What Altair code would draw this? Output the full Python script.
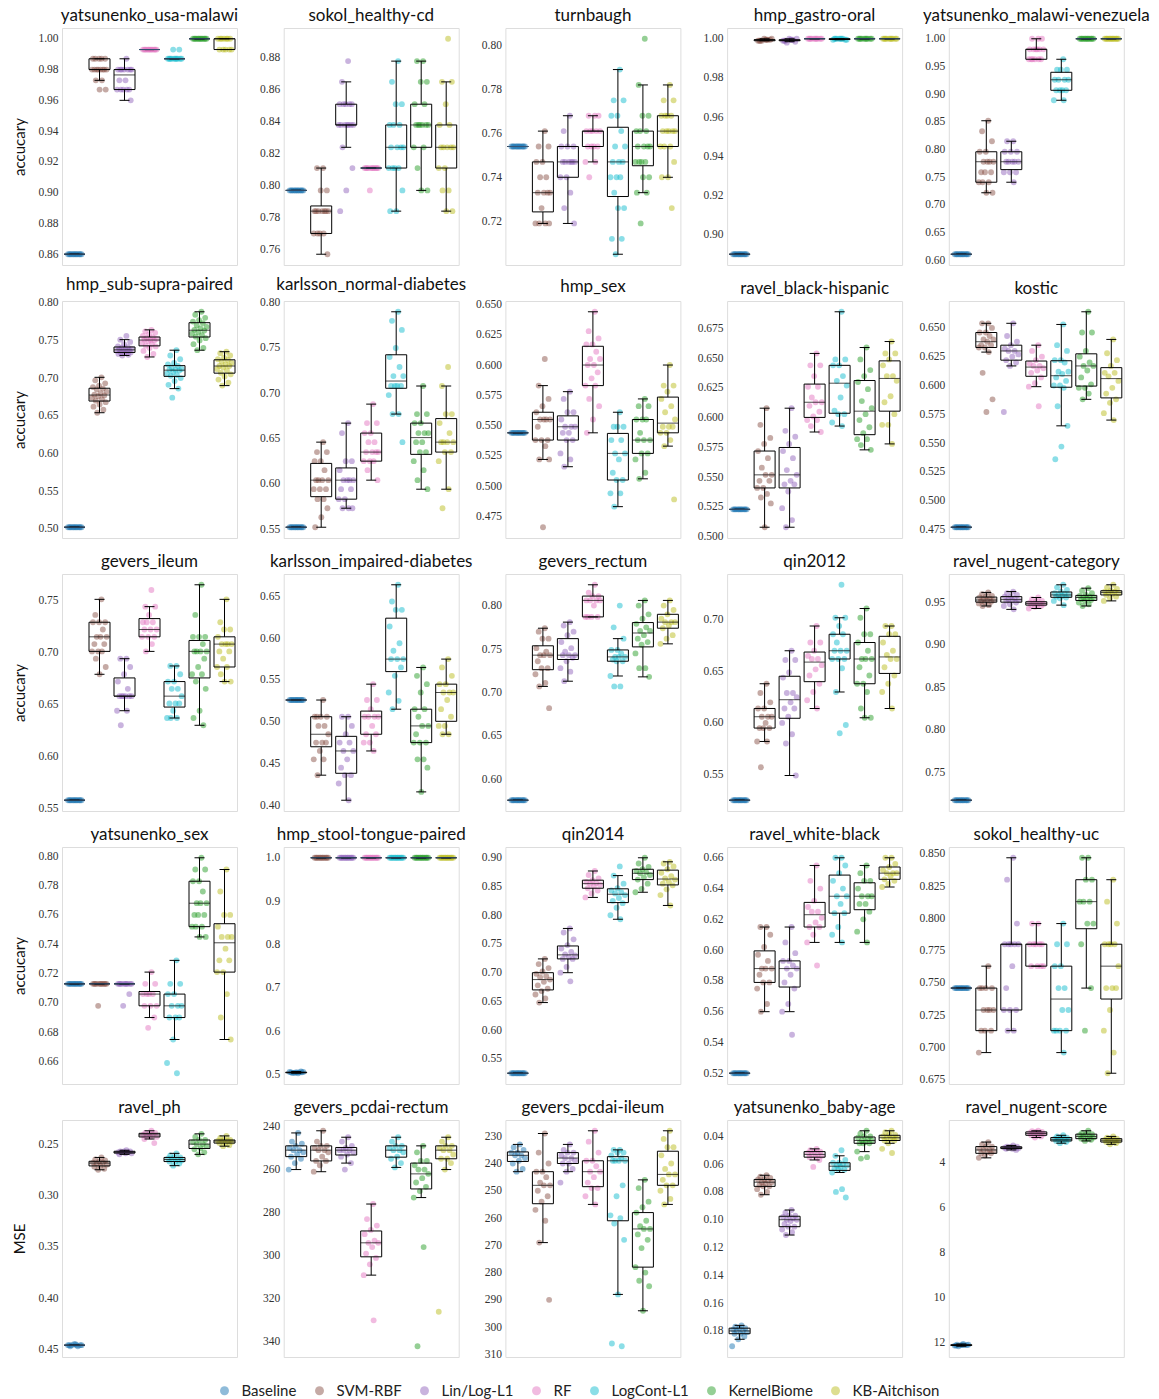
import altair as alt
import pandas as pd

METHODS = ["Baseline", "SVM-RBF", "Lin/Log-L1", "RF", "LogCont-L1", "KernelBiome", "KB-Aitchison"]
COLORS = ["#1f77b4", "#8c564b", "#9467bd", "#e377c2", "#17becf", "#2ca02c", "#bcbd22"]

# ---- per-dataset scores, one list per method (in METHODS order) ----
yatsunenko_usa_malawi = [
    [0.860] * 12,
    [0.987, 0.987, 0.987, 0.987, 0.987, 0.980, 0.980, 0.980, 0.980, 0.980, 0.980, 0.980, 0.980, 0.973, 0.973, 0.967, 0.967],
    [0.987, 0.980, 0.980, 0.980, 0.980, 0.980, 0.980, 0.980, 0.973, 0.973, 0.967, 0.967, 0.967, 0.967, 0.967, 0.960],
    [0.993] * 12,
    [0.987] * 10 + [0.993, 0.993],
    [1.000] * 12,
    [1.000] * 7 + [0.993] * 5,
]
sokol_healthy_cd = [
    [0.797] * 12,
    [0.811, 0.811, 0.797, 0.797, 0.784, 0.784, 0.784, 0.784, 0.784, 0.784, 0.784, 0.770, 0.770, 0.770, 0.770, 0.757],
    [0.878, 0.865, 0.851, 0.851, 0.851, 0.851, 0.851, 0.838, 0.838, 0.838, 0.838, 0.838, 0.838, 0.838, 0.824, 0.811, 0.797, 0.784],
    [0.811] * 11 + [0.797],
    [0.878, 0.865, 0.851, 0.851, 0.838, 0.838, 0.838, 0.824, 0.824, 0.824, 0.824, 0.811, 0.811, 0.811, 0.811, 0.797, 0.784, 0.784],
    [0.878, 0.878, 0.865, 0.865, 0.851, 0.851, 0.838, 0.838, 0.838, 0.838, 0.838, 0.838, 0.824, 0.824, 0.811, 0.797, 0.797],
    [0.892, 0.865, 0.865, 0.851, 0.838, 0.838, 0.824, 0.824, 0.824, 0.824, 0.824, 0.811, 0.811, 0.797, 0.797, 0.784, 0.784],
]
turnbaugh = [
    [0.754] * 12,
    [0.761, 0.754, 0.754, 0.747, 0.747, 0.740, 0.740, 0.733, 0.733, 0.733, 0.733, 0.726, 0.719, 0.719, 0.719, 0.719],
    [0.768, 0.761, 0.754, 0.754, 0.754, 0.747, 0.747, 0.747, 0.747, 0.747, 0.747, 0.740, 0.740, 0.733, 0.726, 0.719],
    [0.768, 0.768, 0.768, 0.761, 0.761, 0.761, 0.761, 0.761, 0.754, 0.754, 0.754, 0.754, 0.747, 0.747, 0.740],
    [0.789, 0.775, 0.775, 0.768, 0.768, 0.761, 0.754, 0.754, 0.747, 0.747, 0.747, 0.740, 0.740, 0.740, 0.733, 0.726, 0.726, 0.712, 0.712, 0.705],
    [0.803, 0.782, 0.768, 0.768, 0.761, 0.761, 0.761, 0.754, 0.754, 0.754, 0.754, 0.747, 0.747, 0.747, 0.747, 0.740, 0.740, 0.733, 0.733, 0.719],
    [0.782, 0.775, 0.775, 0.768, 0.768, 0.768, 0.768, 0.761, 0.761, 0.761, 0.761, 0.761, 0.754, 0.754, 0.754, 0.747, 0.740, 0.740, 0.726],
]
hmp_gastro_oral = [
    [0.890] * 12,
    [0.9995, 0.9990, 0.9995, 1.0, 0.9990, 0.9995, 0.9990, 1.0, 0.9995, 0.9990],
    [0.9995, 0.9990, 0.9985, 1.0, 0.9990, 0.9995, 0.9980, 1.0, 0.9995, 0.9990],
    [1.0] * 10,
    [1.0, 1.0, 0.9995, 1.0, 0.9995, 1.0, 1.0, 0.9995, 1.0, 1.0],
    [1.0] * 10,
    [1.0] * 10,
]
yatsunenko_malawi_venezuela = [
    [0.611] * 12,
    [0.852, 0.833, 0.815, 0.796, 0.796, 0.778, 0.778, 0.778, 0.778, 0.759, 0.759, 0.759, 0.741, 0.741, 0.741, 0.722, 0.722],
    [0.815, 0.815, 0.796, 0.796, 0.796, 0.778, 0.778, 0.778, 0.778, 0.778, 0.759, 0.759, 0.759, 0.741],
    [1.000, 1.000, 1.000, 0.981, 0.981, 0.981, 0.981, 0.981, 0.981, 0.963, 0.963, 0.963, 0.963, 0.963, 0.963],
    [0.963, 0.944, 0.944, 0.944, 0.926, 0.926, 0.926, 0.926, 0.907, 0.907, 0.907, 0.907, 0.889, 0.889],
    [1.000] * 12,
    [1.000] * 12,
]
hmp_sub_supra_paired = [
    [0.502] * 12,
    [0.701, 0.697, 0.693, 0.690, 0.688, 0.686, 0.685, 0.682, 0.680, 0.678, 0.677, 0.676, 0.674, 0.672, 0.670, 0.668, 0.665, 0.662, 0.658, 0.654],
    [0.756, 0.751, 0.748, 0.745, 0.742, 0.741, 0.740, 0.739, 0.738, 0.738, 0.737, 0.737, 0.736, 0.735, 0.734, 0.734, 0.733, 0.732, 0.731, 0.730],
    [0.764, 0.762, 0.760, 0.758, 0.756, 0.754, 0.753, 0.752, 0.751, 0.751, 0.750, 0.749, 0.747, 0.745, 0.743, 0.742, 0.740, 0.736, 0.732, 0.728],
    [0.737, 0.730, 0.725, 0.720, 0.718, 0.716, 0.714, 0.712, 0.711, 0.711, 0.710, 0.708, 0.706, 0.704, 0.703, 0.700, 0.696, 0.691, 0.686, 0.674],
    [0.788, 0.784, 0.780, 0.777, 0.775, 0.773, 0.770, 0.768, 0.766, 0.764, 0.763, 0.761, 0.759, 0.757, 0.755, 0.753, 0.750, 0.745, 0.740, 0.737],
    [0.735, 0.733, 0.730, 0.727, 0.725, 0.724, 0.722, 0.720, 0.718, 0.716, 0.716, 0.714, 0.712, 0.710, 0.707, 0.705, 0.702, 0.698, 0.694, 0.690],
]
karlsson_normal_diabetes = [
    [0.552] * 12,
    [0.646, 0.635, 0.635, 0.625, 0.625, 0.615, 0.604, 0.604, 0.604, 0.604, 0.594, 0.594, 0.594, 0.583, 0.583, 0.573, 0.563, 0.552],
    [0.667, 0.656, 0.625, 0.625, 0.615, 0.604, 0.604, 0.604, 0.604, 0.594, 0.594, 0.583, 0.583, 0.573, 0.573, 0.573],
    [0.688, 0.667, 0.667, 0.656, 0.656, 0.646, 0.646, 0.635, 0.635, 0.635, 0.635, 0.625, 0.625, 0.625, 0.615, 0.604],
    [0.790, 0.780, 0.770, 0.750, 0.740, 0.729, 0.719, 0.719, 0.708, 0.708, 0.708, 0.708, 0.698, 0.677, 0.677, 0.646],
    [0.708, 0.677, 0.677, 0.667, 0.667, 0.656, 0.656, 0.656, 0.646, 0.646, 0.635, 0.635, 0.625, 0.615, 0.604, 0.594],
    [0.729, 0.708, 0.677, 0.677, 0.667, 0.656, 0.646, 0.646, 0.646, 0.646, 0.635, 0.635, 0.625, 0.594, 0.573],
]
hmp_sex = [
    [0.544] * 12,
    [0.605, 0.583, 0.572, 0.566, 0.561, 0.555, 0.555, 0.555, 0.555, 0.549, 0.538, 0.538, 0.538, 0.533, 0.522, 0.522, 0.466],
    [0.578, 0.572, 0.561, 0.561, 0.555, 0.549, 0.549, 0.549, 0.544, 0.544, 0.538, 0.538, 0.527, 0.522, 0.516],
    [0.644, 0.628, 0.622, 0.617, 0.617, 0.611, 0.605, 0.605, 0.600, 0.600, 0.594, 0.589, 0.583, 0.583, 0.572, 0.566, 0.555, 0.544],
    [0.561, 0.549, 0.549, 0.549, 0.538, 0.538, 0.527, 0.527, 0.522, 0.511, 0.505, 0.505, 0.494, 0.494, 0.483],
    [0.572, 0.566, 0.566, 0.555, 0.555, 0.555, 0.544, 0.538, 0.538, 0.538, 0.527, 0.527, 0.522, 0.511, 0.506],
    [0.600, 0.583, 0.583, 0.578, 0.572, 0.566, 0.561, 0.555, 0.549, 0.549, 0.549, 0.544, 0.544, 0.538, 0.533, 0.489],
]
ravel_black_hispanic = [
    [0.523] * 12,
    [0.608, 0.594, 0.583, 0.578, 0.572, 0.566, 0.558, 0.552, 0.552, 0.547, 0.547, 0.541, 0.541, 0.536, 0.533, 0.528, 0.508],
    [0.608, 0.589, 0.584, 0.578, 0.572, 0.566, 0.556, 0.552, 0.547, 0.544, 0.544, 0.538, 0.524, 0.514, 0.508],
    [0.654, 0.644, 0.644, 0.635, 0.626, 0.626, 0.617, 0.613, 0.613, 0.610, 0.605, 0.601, 0.598, 0.598, 0.593, 0.588],
    [0.689, 0.649, 0.649, 0.644, 0.644, 0.635, 0.631, 0.627, 0.617, 0.606, 0.603, 0.603, 0.596, 0.593],
    [0.659, 0.649, 0.640, 0.635, 0.630, 0.624, 0.614, 0.608, 0.603, 0.598, 0.592, 0.587, 0.582, 0.582, 0.577, 0.573],
    [0.664, 0.654, 0.654, 0.649, 0.644, 0.635, 0.635, 0.631, 0.618, 0.613, 0.603, 0.594, 0.594, 0.578],
]
kostic = [
    [0.477] * 12,
    [0.654, 0.654, 0.650, 0.646, 0.646, 0.643, 0.640, 0.640, 0.638, 0.635, 0.635, 0.633, 0.633, 0.629, 0.611, 0.588, 0.577],
    [0.654, 0.643, 0.638, 0.635, 0.632, 0.630, 0.630, 0.627, 0.625, 0.622, 0.620, 0.617, 0.577],
    [0.635, 0.630, 0.625, 0.622, 0.619, 0.617, 0.617, 0.615, 0.613, 0.611, 0.607, 0.602, 0.599, 0.582],
    [0.653, 0.635, 0.630, 0.622, 0.622, 0.620, 0.612, 0.612, 0.610, 0.607, 0.604, 0.600, 0.600, 0.598, 0.582, 0.565, 0.547, 0.536],
    [0.664, 0.646, 0.646, 0.630, 0.625, 0.620, 0.617, 0.617, 0.613, 0.607, 0.601, 0.598, 0.598, 0.593, 0.588],
    [0.640, 0.628, 0.622, 0.617, 0.611, 0.611, 0.608, 0.604, 0.598, 0.593, 0.588, 0.585, 0.576, 0.570],
]
gevers_ileum = [
    [0.558] * 12,
    [0.751, 0.736, 0.729, 0.729, 0.729, 0.722, 0.715, 0.715, 0.715, 0.708, 0.708, 0.701, 0.701, 0.701, 0.694, 0.686, 0.679],
    [0.694, 0.694, 0.686, 0.679, 0.672, 0.665, 0.658, 0.658, 0.658, 0.658, 0.658, 0.658, 0.644, 0.644, 0.630],
    [0.760, 0.744, 0.744, 0.736, 0.729, 0.729, 0.729, 0.722, 0.722, 0.722, 0.715, 0.715, 0.715, 0.708, 0.701],
    [0.687, 0.687, 0.679, 0.672, 0.672, 0.665, 0.665, 0.658, 0.651, 0.651, 0.651, 0.644, 0.637, 0.637, 0.637],
    [0.765, 0.736, 0.715, 0.715, 0.715, 0.708, 0.701, 0.701, 0.701, 0.701, 0.694, 0.686, 0.679, 0.679, 0.672, 0.665, 0.644, 0.637, 0.630],
    [0.751, 0.729, 0.722, 0.722, 0.715, 0.708, 0.708, 0.708, 0.708, 0.701, 0.701, 0.694, 0.686, 0.686, 0.679, 0.672, 0.672],
]
karlsson_impaired_diabetes = [
    [0.526] * 12,
    [0.526, 0.506, 0.506, 0.506, 0.506, 0.495, 0.495, 0.485, 0.475, 0.475, 0.475, 0.465, 0.455, 0.455, 0.436],
    [0.506, 0.506, 0.495, 0.485, 0.475, 0.475, 0.465, 0.465, 0.455, 0.445, 0.436, 0.436, 0.426, 0.406],
    [0.545, 0.526, 0.526, 0.515, 0.506, 0.506, 0.506, 0.506, 0.495, 0.485, 0.485, 0.475, 0.475, 0.465],
    [0.664, 0.644, 0.634, 0.634, 0.614, 0.594, 0.585, 0.575, 0.575, 0.575, 0.565, 0.555, 0.535, 0.525, 0.515],
    [0.565, 0.555, 0.545, 0.535, 0.515, 0.515, 0.506, 0.495, 0.495, 0.485, 0.475, 0.475, 0.475, 0.455, 0.455, 0.445, 0.416],
    [0.575, 0.565, 0.555, 0.545, 0.545, 0.535, 0.535, 0.535, 0.526, 0.515, 0.506, 0.495, 0.495, 0.485, 0.485],
]
gevers_rectum = [
    [0.576] * 12,
    [0.774, 0.770, 0.762, 0.762, 0.751, 0.747, 0.743, 0.743, 0.743, 0.736, 0.728, 0.728, 0.721, 0.711, 0.707, 0.682],
    [0.781, 0.777, 0.770, 0.766, 0.758, 0.751, 0.747, 0.743, 0.743, 0.743, 0.740, 0.736, 0.728, 0.724, 0.713],
    [0.824, 0.815, 0.811, 0.811, 0.806, 0.806, 0.806, 0.806, 0.800, 0.787, 0.787, 0.787, 0.787],
    [0.800, 0.775, 0.762, 0.749, 0.749, 0.745, 0.741, 0.741, 0.741, 0.738, 0.736, 0.736, 0.719, 0.707, 0.707],
    [0.806, 0.800, 0.790, 0.785, 0.779, 0.775, 0.771, 0.771, 0.766, 0.762, 0.758, 0.755, 0.745, 0.728, 0.728, 0.718],
    [0.806, 0.800, 0.795, 0.790, 0.785, 0.781, 0.781, 0.781, 0.777, 0.774, 0.766, 0.762, 0.756],
]
qin2012 = [
    [0.525] * 12,
    [0.638, 0.629, 0.620, 0.614, 0.614, 0.606, 0.606, 0.606, 0.600, 0.595, 0.595, 0.595, 0.582, 0.582, 0.557],
    [0.670, 0.661, 0.661, 0.649, 0.644, 0.629, 0.629, 0.625, 0.620, 0.614, 0.614, 0.606, 0.600, 0.589, 0.580, 0.549],
    [0.694, 0.678, 0.678, 0.670, 0.665, 0.662, 0.662, 0.656, 0.652, 0.646, 0.638, 0.630, 0.622, 0.614],
    [0.734, 0.702, 0.702, 0.694, 0.686, 0.686, 0.678, 0.670, 0.670, 0.670, 0.662, 0.662, 0.662, 0.653, 0.630, 0.598, 0.590],
    [0.711, 0.702, 0.686, 0.686, 0.678, 0.670, 0.662, 0.662, 0.662, 0.654, 0.646, 0.638, 0.638, 0.630, 0.614, 0.605, 0.605],
    [0.694, 0.694, 0.686, 0.686, 0.678, 0.670, 0.666, 0.662, 0.662, 0.654, 0.646, 0.638, 0.630, 0.614],
]
ravel_nugent_category = [
    [0.717] * 12,
    [0.962, 0.960, 0.958, 0.957, 0.956, 0.955, 0.954, 0.953, 0.953, 0.952, 0.951, 0.950, 0.949, 0.947, 0.946],
    [0.963, 0.961, 0.959, 0.957, 0.957, 0.955, 0.954, 0.953, 0.953, 0.952, 0.950, 0.948, 0.946, 0.942],
    [0.956, 0.954, 0.952, 0.951, 0.950, 0.949, 0.949, 0.948, 0.947, 0.947, 0.946, 0.945, 0.943],
    [0.971, 0.968, 0.965, 0.963, 0.961, 0.960, 0.959, 0.959, 0.958, 0.957, 0.956, 0.955, 0.952, 0.947],
    [0.967, 0.964, 0.961, 0.959, 0.958, 0.957, 0.956, 0.956, 0.955, 0.954, 0.953, 0.952, 0.950, 0.948, 0.946],
    [0.971, 0.968, 0.966, 0.964, 0.963, 0.963, 0.962, 0.961, 0.960, 0.959, 0.957, 0.955, 0.952],
]
yatsunenko_sex = [
    [0.713] * 12,
    [0.713] * 11 + [0.698],
    [0.713] * 10 + [0.706, 0.698],
    [0.721, 0.713, 0.713, 0.706, 0.706, 0.706, 0.706, 0.698, 0.698, 0.698, 0.690, 0.683],
    [0.729, 0.713, 0.713, 0.706, 0.706, 0.698, 0.698, 0.698, 0.690, 0.690, 0.690, 0.675, 0.659, 0.652],
    [0.799, 0.791, 0.791, 0.783, 0.783, 0.776, 0.768, 0.768, 0.768, 0.760, 0.760, 0.760, 0.752, 0.752, 0.752, 0.745, 0.745],
    [0.791, 0.776, 0.760, 0.760, 0.752, 0.745, 0.745, 0.745, 0.737, 0.729, 0.729, 0.721, 0.721, 0.706, 0.690, 0.675],
]
hmp_stool_tongue_paired = [
    [0.503, 0.504, 0.505, 0.505, 0.506, 0.505, 0.504, 0.506, 0.505, 0.505, 0.507, 0.504],
    [1.0] * 12,
    [1.0] * 12,
    [1.0] * 12,
    [1.0] * 12,
    [1.0] * 12,
    [1.0] * 12,
]
qin2014 = [
    [0.525] * 12,
    [0.724, 0.715, 0.708, 0.702, 0.698, 0.694, 0.692, 0.688, 0.684, 0.678, 0.672, 0.668, 0.662, 0.655, 0.648],
    [0.777, 0.770, 0.758, 0.748, 0.742, 0.736, 0.732, 0.730, 0.727, 0.724, 0.724, 0.710, 0.700, 0.685],
    [0.877, 0.870, 0.864, 0.861, 0.858, 0.856, 0.855, 0.853, 0.850, 0.847, 0.843, 0.838, 0.831],
    [0.885, 0.869, 0.855, 0.847, 0.843, 0.840, 0.838, 0.835, 0.830, 0.825, 0.821, 0.813, 0.800, 0.793],
    [0.900, 0.890, 0.884, 0.880, 0.877, 0.875, 0.873, 0.870, 0.866, 0.862, 0.855, 0.846, 0.840],
    [0.893, 0.890, 0.885, 0.880, 0.874, 0.868, 0.864, 0.862, 0.858, 0.855, 0.852, 0.845, 0.835, 0.817],
]
ravel_white_black = [
    [0.520] * 12,
    [0.615, 0.615, 0.610, 0.602, 0.597, 0.593, 0.588, 0.588, 0.588, 0.584, 0.579, 0.579, 0.575, 0.565, 0.560],
    [0.615, 0.605, 0.598, 0.593, 0.593, 0.590, 0.588, 0.588, 0.584, 0.579, 0.575, 0.565, 0.560, 0.545],
    [0.655, 0.645, 0.640, 0.632, 0.628, 0.625, 0.625, 0.621, 0.618, 0.615, 0.615, 0.610, 0.605, 0.590],
    [0.660, 0.660, 0.655, 0.650, 0.645, 0.640, 0.635, 0.635, 0.630, 0.624, 0.624, 0.615, 0.610, 0.605],
    [0.655, 0.650, 0.645, 0.645, 0.640, 0.635, 0.635, 0.635, 0.630, 0.630, 0.625, 0.620, 0.612, 0.605],
    [0.660, 0.660, 0.656, 0.654, 0.652, 0.650, 0.650, 0.650, 0.648, 0.646, 0.645, 0.643, 0.641],
]
sokol_healthy_uc = [
    [0.746] * 12,
    [0.763, 0.746, 0.746, 0.746, 0.746, 0.729, 0.729, 0.729, 0.729, 0.713, 0.713, 0.713, 0.696],
    [0.847, 0.830, 0.796, 0.780, 0.780, 0.780, 0.780, 0.780, 0.763, 0.746, 0.729, 0.729, 0.729, 0.713, 0.713],
    [0.796, 0.796, 0.780, 0.780, 0.780, 0.780, 0.780, 0.763, 0.763, 0.763, 0.763],
    [0.796, 0.780, 0.780, 0.763, 0.763, 0.746, 0.746, 0.729, 0.729, 0.713, 0.713, 0.713, 0.713, 0.696],
    [0.847, 0.847, 0.830, 0.830, 0.813, 0.813, 0.813, 0.796, 0.796, 0.780, 0.746, 0.713],
    [0.830, 0.813, 0.796, 0.780, 0.780, 0.780, 0.780, 0.763, 0.746, 0.746, 0.746, 0.729, 0.713, 0.696, 0.680],
]
ravel_ph = [
    [0.446, 0.447, 0.446, 0.445, 0.446, 0.447, 0.446, 0.446, 0.445, 0.446],
    [0.263, 0.265, 0.266, 0.267, 0.268, 0.268, 0.269, 0.270, 0.271, 0.272, 0.274, 0.275],
    [0.256, 0.257, 0.257, 0.257, 0.258, 0.258, 0.258, 0.259, 0.259, 0.260],
    [0.237, 0.239, 0.239, 0.240, 0.241, 0.241, 0.242, 0.243, 0.243, 0.245, 0.249],
    [0.259, 0.261, 0.263, 0.263, 0.264, 0.265, 0.265, 0.266, 0.267, 0.267, 0.269, 0.271],
    [0.240, 0.243, 0.246, 0.246, 0.248, 0.250, 0.250, 0.252, 0.254, 0.255, 0.258, 0.260],
    [0.242, 0.244, 0.246, 0.246, 0.247, 0.247, 0.247, 0.248, 0.249, 0.249, 0.251, 0.252],
]
gevers_pcdai_rectum = [
    [243, 247, 248, 249, 250, 251, 251, 252, 253, 254, 255, 257, 260],
    [242, 247, 249, 249, 250, 251, 251, 252, 254, 256, 256, 258, 261],
    [245, 247, 249, 250, 251, 251, 251, 252, 253, 254, 257, 260],
    [276, 283, 286, 288, 290, 293, 294, 294, 296, 299, 301, 304, 309, 330],
    [245, 247, 249, 249, 250, 251, 251, 252, 254, 255, 257, 259],
    [249, 252, 256, 256, 258, 260, 260, 262, 264, 266, 268, 270, 273, 296, 342],
    [245, 247, 249, 249, 250, 251, 251, 253, 255, 255, 257, 260, 326],
]
gevers_pcdai_ileum = [
    [233, 234, 235, 236, 236, 237, 237, 238, 239, 240, 242, 243],
    [229, 236, 240, 243, 243, 245, 247, 248, 248, 250, 252, 254, 257, 261, 269, 290],
    [233, 235, 236, 236, 237, 238, 238, 239, 240, 240, 242, 243, 247],
    [228, 232, 236, 239, 239, 241, 243, 243, 245, 247, 249, 249, 252, 255],
    [235, 235, 236, 236, 237, 238, 239, 239, 239, 239, 248, 252, 259, 260, 262, 268, 288, 306, 307],
    [246, 249, 254, 256, 258, 261, 263, 264, 264, 266, 268, 271, 278, 280, 283, 285, 294],
    [228, 231, 234, 234, 237, 240, 242, 244, 244, 246, 248, 248, 250, 253, 255],
]
yatsunenko_baby_age = [
    [0.176, 0.177, 0.178, 0.178, 0.179, 0.180, 0.180, 0.181, 0.182, 0.182, 0.184, 0.186, 0.191],
    [0.068, 0.069, 0.070, 0.071, 0.071, 0.072, 0.073, 0.073, 0.074, 0.075, 0.076, 0.076, 0.078, 0.080, 0.082],
    [0.093, 0.095, 0.097, 0.097, 0.098, 0.099, 0.100, 0.100, 0.101, 0.103, 0.105, 0.105, 0.107, 0.109, 0.111],
    [0.049, 0.050, 0.051, 0.051, 0.052, 0.053, 0.053, 0.054, 0.055, 0.055, 0.057, 0.062],
    [0.050, 0.054, 0.057, 0.059, 0.059, 0.060, 0.061, 0.061, 0.062, 0.063, 0.064, 0.064, 0.066, 0.078, 0.080, 0.084],
    [0.036, 0.038, 0.040, 0.040, 0.041, 0.042, 0.043, 0.043, 0.044, 0.045, 0.045, 0.045, 0.051, 0.055, 0.056],
    [0.036, 0.037, 0.039, 0.039, 0.040, 0.041, 0.041, 0.041, 0.042, 0.043, 0.043, 0.045, 0.049, 0.052],
]
ravel_nugent_score = [
    [12.05, 12.08, 12.10, 12.10, 12.12, 12.10, 12.15, 12.08, 12.10, 12.12],
    [3.10, 3.20, 3.30, 3.30, 3.40, 3.45, 3.45, 3.50, 3.55, 3.60, 3.60, 3.70, 3.80],
    [3.25, 3.30, 3.30, 3.32, 3.35, 3.35, 3.35, 3.38, 3.40, 3.40, 3.45],
    [2.60, 2.62, 2.65, 2.65, 2.70, 2.72, 2.72, 2.75, 2.80, 2.80, 2.85, 2.90],
    [2.80, 2.85, 2.90, 2.90, 2.95, 2.98, 2.98, 3.00, 3.05, 3.05, 3.10, 3.15],
    [2.60, 2.70, 2.75, 2.75, 2.80, 2.85, 2.85, 2.90, 2.95, 2.95, 3.00, 3.05],
    [2.85, 2.90, 2.95, 2.95, 3.00, 3.02, 3.02, 3.05, 3.10, 3.10, 3.15, 3.20],
]

# (title, scores, y tick values, tick format)
PANELS = [
    ("yatsunenko_usa-malawi", yatsunenko_usa_malawi, [0.86, 0.88, 0.90, 0.92, 0.94, 0.96, 0.98, 1.00], ".2f"),
    ("sokol_healthy-cd", sokol_healthy_cd, [0.76, 0.78, 0.80, 0.82, 0.84, 0.86, 0.88], ".2f"),
    ("turnbaugh", turnbaugh, [0.70, 0.72, 0.74, 0.76, 0.78, 0.80], ".2f"),
    ("hmp_gastro-oral", hmp_gastro_oral, [0.90, 0.92, 0.94, 0.96, 0.98, 1.00], ".2f"),
    ("yatsunenko_malawi-venezuela", yatsunenko_malawi_venezuela, [0.60, 0.65, 0.70, 0.75, 0.80, 0.85, 0.90, 0.95, 1.00], ".2f"),
    ("hmp_sub-supra-paired", hmp_sub_supra_paired, [0.50, 0.55, 0.60, 0.65, 0.70, 0.75, 0.80], ".2f"),
    ("karlsson_normal-diabetes", karlsson_normal_diabetes, [0.55, 0.60, 0.65, 0.70, 0.75, 0.80], ".2f"),
    ("hmp_sex", hmp_sex, [0.475, 0.500, 0.525, 0.550, 0.575, 0.600, 0.625, 0.650], ".3f"),
    ("ravel_black-hispanic", ravel_black_hispanic, [0.500, 0.525, 0.550, 0.575, 0.600, 0.625, 0.650, 0.675], ".3f"),
    ("kostic", kostic, [0.475, 0.500, 0.525, 0.550, 0.575, 0.600, 0.625, 0.650], ".3f"),
    ("gevers_ileum", gevers_ileum, [0.55, 0.60, 0.65, 0.70, 0.75], ".2f"),
    ("karlsson_impaired-diabetes", karlsson_impaired_diabetes, [0.40, 0.45, 0.50, 0.55, 0.60, 0.65], ".2f"),
    ("gevers_rectum", gevers_rectum, [0.60, 0.65, 0.70, 0.75, 0.80], ".2f"),
    ("qin2012", qin2012, [0.55, 0.60, 0.65, 0.70], ".2f"),
    ("ravel_nugent-category", ravel_nugent_category, [0.75, 0.80, 0.85, 0.90, 0.95], ".2f"),
    ("yatsunenko_sex", yatsunenko_sex, [0.66, 0.68, 0.70, 0.72, 0.74, 0.76, 0.78, 0.80], ".2f"),
    ("hmp_stool-tongue-paired", hmp_stool_tongue_paired, [0.5, 0.6, 0.7, 0.8, 0.9, 1.0], ".1f"),
    ("qin2014", qin2014, [0.55, 0.60, 0.65, 0.70, 0.75, 0.80, 0.85, 0.90], ".2f"),
    ("ravel_white-black", ravel_white_black, [0.52, 0.54, 0.56, 0.58, 0.60, 0.62, 0.64, 0.66], ".2f"),
    ("sokol_healthy-uc", sokol_healthy_uc, [0.675, 0.700, 0.725, 0.750, 0.775, 0.800, 0.825, 0.850], ".3f"),
    ("ravel_ph", ravel_ph, [0.25, 0.30, 0.35, 0.40, 0.45], ".2f"),
    ("gevers_pcdai-rectum", gevers_pcdai_rectum, [240, 260, 280, 300, 320, 340], "d"),
    ("gevers_pcdai-ileum", gevers_pcdai_ileum, [230, 240, 250, 260, 270, 280, 290, 300, 310], "d"),
    ("yatsunenko_baby-age", yatsunenko_baby_age, [0.04, 0.06, 0.08, 0.10, 0.12, 0.14, 0.16, 0.18], ".2f"),
    ("ravel_nugent-score", ravel_nugent_score, [4, 6, 8, 10, 12], "d"),
]

N_COLS = 5
PANEL_W, PANEL_H = 175, 237
BAND = PANEL_W / len(METHODS)   # width of one method column
JITTER = 8                      # half-width of the horizontal point spread


def make_panel(idx, title, scores, ticks, fmt):
    row, col = divmod(idx, N_COLS)
    is_mse = row == 4
    df = pd.DataFrame(
        [{"method": m, "value": v} for m, vals in zip(METHODS, scores) for v in vals]
    )
    lo, hi = df["value"].min(), df["value"].max()
    margin = 0.05 * (hi - lo)

    y_title = None
    if col == 0:
        y_title = "MSE" if is_mse else "accucary"

    y_enc = alt.Y(
        "value:Q",
        title=y_title,
        scale=alt.Scale(domain=[lo - margin, hi + margin], nice=False, zero=False, reverse=is_mse),
        axis=alt.Axis(values=ticks, format=fmt, ticks=False, domain=False, grid=False,
                      labelPadding=4, titlePadding=10),
    )
    x_enc = alt.X(
        "method:N",
        scale=alt.Scale(domain=METHODS, paddingInner=0, paddingOuter=0),
        axis=None,
    )

    base = alt.Chart(df)

    points = (
        base.transform_window(rn="row_number()", groupby=["method"])
        .transform_calculate(jit="((datum.rn * 0.6180339) % 1) - 0.5")
        .mark_circle(size=34, opacity=0.5)
        .encode(
            x=x_enc,
            xOffset=alt.XOffset(
                "jit:Q",
                scale=alt.Scale(domain=[-0.5, 0.5], range=[BAND / 2 - JITTER, BAND / 2 + JITTER]),
            ),
            y=y_enc,
            color=alt.Color(
                "method:N",
                scale=alt.Scale(domain=METHODS, range=COLORS),
                legend=alt.Legend(title=None, orient="none", direction="horizontal",
                                  legendX=155, legendY=1355,
                                  symbolType="circle", symbolSize=80, symbolOpacity=0.5,
                                  symbolStrokeWidth=0, labelFont="Lato", labelFontSize=15,
                                  labelColor="#222222", labelOffset=9.5, columnPadding=15),
            ),
        )
    )

    boxes = base.mark_boxplot(
        extent=1.5,
        size=21,
        outliers=False,
        box={"fill": "white", "fillOpacity": 0, "stroke": "black", "strokeWidth": 1},
        median={"color": "black"},
        rule={"color": "black", "strokeWidth": 1},
        ticks={"color": "black", "size": 10},
    ).encode(x=x_enc, y=y_enc)

    return alt.layer(points, boxes).properties(
        width=PANEL_W, height=PANEL_H, title=title
    )


panels = [make_panel(i, *p) for i, p in enumerate(PANELS)]

chart = (
    alt.concat(*panels, columns=N_COLS, spacing=alt.RowColnumber(row=36, column=46.7), bounds="flush")
    .properties(padding={"left": 12, "top": 6, "right": 5, "bottom": 0})
    .configure_view(stroke="#dddddd", strokeWidth=1)
    .configure_axis(
        labelFont="Liberation Serif", labelFontSize=11.5, labelColor="#333333",
        titleFont="Lato", titleFontSize=15, titleFontWeight="normal", titleColor="#111111",
    )
    .configure_title(font="Lato", fontSize=17, fontWeight="normal", color="#111111", offset=3)
)

chart.save("out.html", embed_options={"renderer": "svg", "actions": False})
